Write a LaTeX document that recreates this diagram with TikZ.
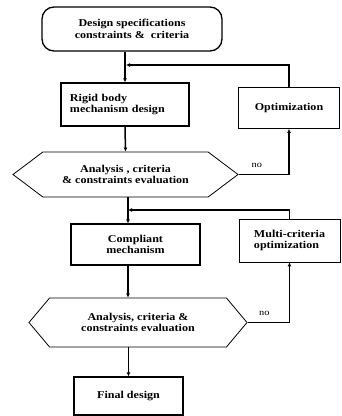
\documentclass[tikz,border=0pt]{standalone}
\usepackage{fontspec}
\setmainfont{Liberation Serif}[FakeStretch=1.15]
\usetikzlibrary{arrows.meta,shapes.symbols}

\begin{document}
\begin{tikzpicture}[x=1pt,y=-1pt]
        % Define styles for the boxes and arrows
        \tikzset{
            stepbox/.style={draw, line width=1.3pt, rectangle, inner sep=2pt,
                font=\fontsize{10.5}{11.5}\selectfont\bfseries},
            optbox/.style={draw, line width=0.7pt, rectangle, inner sep=2pt,
                font=\fontsize{10.5}{11.5}\selectfont\bfseries},
            evalbox/.style={draw, line width=0.8pt, signal, signal to=west and east,
                inner sep=0pt, font=\fontsize{10.5}{11.5}\selectfont\bfseries},
            black arrow/.style={-{Latex[length=4pt,width=4pt]}, line width=1.5pt, black},
            back arrow/.style={-{Latex[length=4pt,width=4pt]}, line width=1.3pt, black}
        }
        \useasboundingbox (0,0) rectangle (341,416);

        % Boxes of the main flow
        \node[stepbox, rounded corners=12pt, minimum width=180pt, minimum height=44pt,
            align=center] (spec) at (132,29) {Design specifications\\constraints \&\ \ criteria};
        \node[stepbox, minimum width=128pt, minimum height=43pt, align=left,
            text width=110pt] (rigid) at (125,104.5) {Rigid body\\mechanism design};
        \node[evalbox, minimum width=225pt, minimum height=45pt, align=center,
            signal pointer angle=74] (eval1) at (125.5,174.5)
            {Analysis , criteria\\\& constraints evaluation};
        \node[stepbox, minimum width=129pt, minimum height=41pt, align=center]
            (compliant) at (135.5,244.5) {Compliant\\mechanism};
        \node[evalbox, minimum width=218pt, minimum height=49pt, align=center,
            signal pointer angle=100] (eval2) at (138,322.5)
            {Analysis, criteria \&\\constraints evaluation};
        \node[stepbox, minimum width=109pt, minimum height=38pt] (final) at (128.5,396)
            {Final design};

        % Boxes of the feedback loops
        \node[optbox, minimum width=101pt, minimum height=41pt] (opt) at (289,108)
            {Optimization};
        \node[optbox, minimum width=101pt, minimum height=43pt, align=left]
            (multi) at (289.5,240.5) {Multi-criteria\\optimization};

        % Junctions where the loops come back
        \coordinate (j1) at (126,65);
        \coordinate (j2) at (128,210);

        % Main flow arrows
        \draw[black arrow] (rigid.north |- spec.south) -- (rigid.north);
        \draw[black arrow] (rigid.south) -- (eval1.north);
        \draw[black arrow] (j2 |- eval1.south) -- (j2 |- compliant.north);
        \draw[black arrow] (j2 |- compliant.south) -- (j2 |- eval2.north);
        \draw[black arrow] (final.north |- eval2.south) -- (final.north);

        % Loops through the optimization boxes
        \draw[back arrow] (eval1.east) -| node[pos=0.18, above=3pt,
            font=\fontsize{9}{10}\selectfont] {no} (opt.south);
        \draw[back arrow] (opt.north) |- (j1);
        \draw[back arrow] (eval2.east) -| node[pos=0.2, above=3pt,
            font=\fontsize{9}{10}\selectfont] {no} (multi.south);
        \draw[back arrow] (multi.north) |- (j2);

    \end{tikzpicture}
\end{document}
